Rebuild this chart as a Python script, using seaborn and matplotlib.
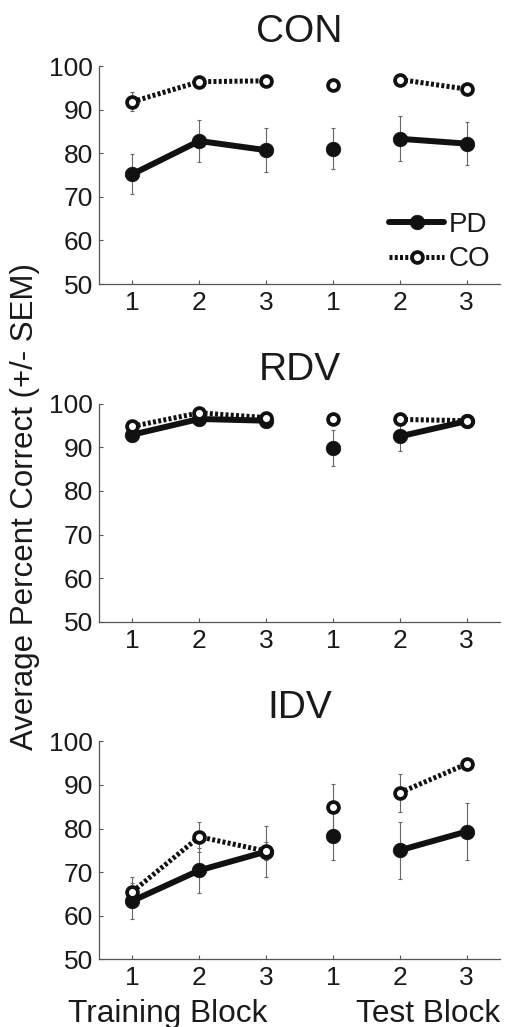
import matplotlib
matplotlib.use("Agg")
import matplotlib.pyplot as plt
from matplotlib.lines import Line2D
import seaborn as sns
import pandas as pd

# Block positions on the x axis (3 training blocks, then 3 test blocks)
block_pos = [1, 2, 3, 4, 5, 6]
block_labels = ["1", "2", "3", "1", "2", "3"]
# Points joined by a line: training 1-3, test 1 alone, test 2-3
segments = [[0, 1, 2], [3], [4, 5]]

conditions = ["CON", "RDV", "IDV"]

con_pd = [75.2, 82.8, 80.7, 81.0, 83.3, 82.2]
con_pd_sem = [4.6, 4.8, 5.0, 4.7, 5.2, 4.9]
con_co = [91.8, 96.4, 96.6, 95.6, 96.9, 94.7]
con_co_sem = [2.2, 1.0, 1.0, 0.8, 1.0, 1.0]

rdv_pd = [92.9, 96.5, 96.1, 89.8, 92.5, 96.0]
rdv_pd_sem = [1.2, 1.0, 1.0, 4.2, 3.4, 1.0]
rdv_co = [94.8, 97.9, 96.8, 96.4, 96.4, 96.1]
rdv_co_sem = [1.0, 0.8, 0.8, 0.8, 0.8, 0.8]

idv_pd = [63.4, 70.4, 74.7, 78.2, 75.0, 79.3]
idv_pd_sem = [4.1, 5.1, 5.8, 5.5, 6.6, 6.6]
idv_co = [65.5, 78.1, 74.8, 85.0, 88.2, 94.8]
idv_co_sem = [3.3, 3.5, 2.0, 5.3, 4.4, 1.0]

means = {"CON": (con_pd, con_co), "RDV": (rdv_pd, rdv_co), "IDV": (idv_pd, idv_co)}
sems = {"CON": (con_pd_sem, con_co_sem), "RDV": (rdv_pd_sem, rdv_co_sem),
        "IDV": (idv_pd_sem, idv_co_sem)}

sns.set_theme(style="ticks")
plt.rcParams["font.family"] = ["Liberation Sans", "DejaVu Sans"]
plt.rcParams["text.color"] = "#1a1a1a"
plt.rcParams["xtick.color"] = "#555555"
plt.rcParams["ytick.color"] = "#555555"
plt.rcParams["xtick.labelcolor"] = "#1a1a1a"
plt.rcParams["ytick.labelcolor"] = "#1a1a1a"

W, H = 508, 1027
fig = plt.figure(figsize=(W / 100, H / 100), dpi=100)

ax_left = 99 / W
ax_width = 401 / W
ax_height = 218 / H
ax_bottoms = [1 - 284 / H, 1 - 621.7 / H, 1 - 959.3 / H]

pd_style = dict(color="#111111", linewidth=4.3, linestyle="-", marker="o",
                markersize=10.5, markerfacecolor="#111111", markeredgecolor="#111111",
                markeredgewidth=0.5)
co_style = dict(color="#111111", linewidth=3.6, linestyle=(0, (0.6, 0.45)), marker="o",
                markersize=7.8, markerfacecolor="white", markeredgecolor="#111111",
                markeredgewidth=2.7)

for cond, bottom in zip(conditions, ax_bottoms):
    ax = fig.add_axes([ax_left, bottom, ax_width, ax_height])
    pd_vals, co_vals = means[cond]
    pd_err, co_err = sems[cond]
    frame = pd.DataFrame({"block": block_pos, "PD": pd_vals, "CO": co_vals,
                          "PD_sem": pd_err, "CO_sem": co_err})

    # SEM bars underneath the lines
    for grp in ["PD", "CO"]:
        ax.errorbar(frame["block"], frame[grp], yerr=frame[grp + "_sem"], fmt="none",
                    ecolor="#666666", elinewidth=0.8, capsize=1.6, capthick=0.8, zorder=1)

    for grp, style in [("PD", pd_style), ("CO", co_style)]:
        for seg in segments:
            sub = frame.iloc[seg]
            sns.lineplot(data=sub, x="block", y=grp, ax=ax, estimator=None, sort=False,
                         legend=False, zorder=3 if grp == "CO" else 2, **style)

    ax.set_xlim(0.5, 6.5)
    ax.set_ylim(50, 100)
    ax.set_xticks(block_pos)
    ax.set_xticklabels(block_labels)
    ax.set_yticks([50, 60, 70, 80, 90, 100])
    ax.set_xlabel("")
    ax.set_ylabel("")
    ax.tick_params(axis="both", direction="in", length=3, width=0.8, labelsize=19)
    ax.tick_params(axis="x", pad=5)
    ax.tick_params(axis="y", pad=4.5)
    for side in ["top", "right"]:
        ax.spines[side].set_visible(False)
    for side in ["left", "bottom"]:
        ax.spines[side].set_color("#555555")
        ax.spines[side].set_linewidth(0.9)
    ax.set_title(cond, fontsize=28, pad=17)

    if cond == "CON":
        handles = [Line2D([], [], **pd_style), Line2D([], [], **co_style)]
        ax.legend(handles, ["PD", "CO"], loc="lower right", bbox_to_anchor=(1.01, -0.01),
                  frameon=False, fontsize=20, handlelength=2.0, handletextpad=0.15,
                  borderpad=0, labelspacing=0.3)

fig.text(25 / W, 1 - 506 / H, "Average Percent Correct (+/- SEM)", rotation=90,
         ha="center", va="center", fontsize=22.5)
fig.text(68 / W, 1 - 1022 / H, "Training Block", ha="left", va="baseline", fontsize=22.8)
fig.text(500 / W, 1 - 1022 / H, "Test Block", ha="right", va="baseline", fontsize=22.8)

fig.savefig("out.png", dpi=100)
